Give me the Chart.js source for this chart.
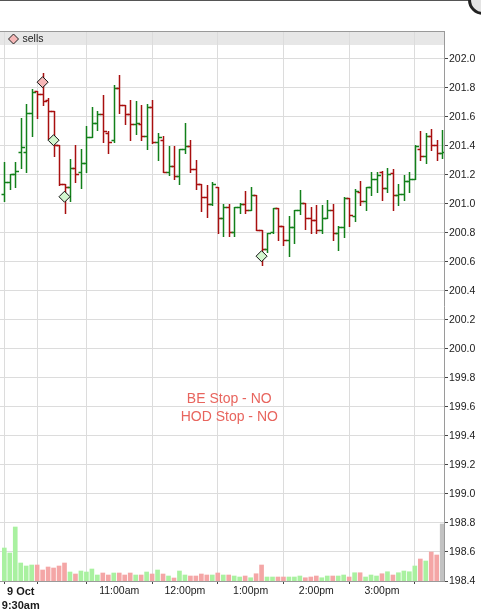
<!DOCTYPE html>
<html>
<head>
<meta charset="utf-8">
<script src="https://cdn.jsdelivr.net/npm/chart.js@4.4.1/dist/chart.umd.min.js"></script>
<style>
  html, body { margin: 0; padding: 0; background: #fff; overflow: hidden; }
  #wrap { position: relative; width: 481px; height: 615px; }
  #c { position: absolute; left: 0; top: 0; }
  #topline { position: absolute; left: 0; top: 0; width: 481px; height: 1px; background: #555; }
  #knob { position: absolute; left: 468px; top: -15px; width: 24px; height: 24px; border-radius: 50%;
          border: 3px solid #222; background: #e4e4e4; }
</style>
</head>
<body>
<div id="wrap">
  <canvas id="c" width="481" height="615"></canvas>
  <div id="topline"></div>
  <div id="knob"></div>
</div>
<script>
// ---------- data (5-minute bars, index 0..80) ----------
const barOpen  = [201.07,201.15,201.21,201.36,201.36,201.63,201.78,201.76,201.72,201.64,
                  201.41,201.14,201.12,201.25,201.22,201.28,201.46,201.56,201.62,201.49,
                  201.44,201.80,201.68,201.62,201.55,201.55,201.47,201.67,201.43,201.44,
                  201.22,201.26,201.19,201.38,201.40,201.24,201.14,201.05,201.00,201.12,
                  200.90,200.98,200.81,200.98,201.00,200.96,201.06,200.82,200.69,200.81,
                  200.97,200.85,200.75,200.84,200.96,201.01,200.90,200.89,200.82,200.90,
                  200.96,200.80,200.84,201.04,200.92,201.085,201.02,201.115,201.17,201.22,
                  201.11,201.215,201.06,201.07,201.16,201.175,201.38,201.33,201.47,201.41,
                  201.355];
const barHigh  = [201.29,201.21,201.29,201.59,201.69,201.79,201.78,201.90,201.73,201.64,
                  201.41,201.14,201.31,201.41,201.38,201.54,201.67,201.64,201.75,201.50,
                  201.82,201.89,201.68,201.72,201.71,201.68,201.69,201.72,201.49,201.47,
                  201.40,201.40,201.38,201.56,201.44,201.30,201.14,201.13,201.15,201.12,
                  201.00,201.00,200.98,201.01,201.09,201.12,201.06,200.82,200.80,200.975,
                  200.97,200.85,200.915,200.96,201.095,201.01,200.98,200.995,200.995,201.03,
                  201.00,200.85,201.045,201.04,201.10,201.16,201.12,201.22,201.22,201.23,
                  201.245,201.24,201.14,201.20,201.22,201.41,201.50,201.49,201.52,201.44,
                  201.51];
const barLow   = [201.02,201.10,201.12,201.25,201.22,201.47,201.59,201.68,201.45,201.33,
                  201.13,200.94,201.02,201.15,201.11,201.22,201.46,201.51,201.43,201.35,
                  201.43,201.63,201.55,201.44,201.48,201.44,201.38,201.42,201.30,201.22,
                  201.20,201.17,201.14,201.35,201.22,201.10,200.95,200.91,200.99,200.80,
                  200.78,200.78,200.78,200.94,200.94,200.96,200.82,200.58,200.67,200.80,
                  200.75,200.72,200.64,200.73,200.93,200.83,200.80,200.80,200.80,200.90,
                  200.75,200.68,200.77,200.845,200.88,200.99,200.96,201.06,201.085,201.03,
                  201.085,200.96,200.99,201.03,201.085,201.175,201.30,201.285,201.37,201.30,
                  201.315];
const barClose = [201.15,201.21,201.23,201.39,201.63,201.77,201.76,201.71,201.64,201.41,
                  201.14,201.12,201.25,201.21,201.28,201.46,201.56,201.62,201.50,201.43,
                  201.80,201.68,201.62,201.55,201.56,201.47,201.67,201.43,201.46,201.22,
                  201.26,201.19,201.38,201.40,201.24,201.14,201.05,201.00,201.14,200.90,
                  200.98,200.81,200.98,201.00,200.96,201.06,200.82,200.69,200.80,200.97,
                  200.85,200.75,200.84,200.96,201.01,200.90,200.89,200.82,200.90,200.96,
                  200.80,200.84,201.04,200.925,201.09,201.02,201.115,201.175,201.20,201.11,
                  201.21,201.06,201.07,201.16,201.175,201.40,201.33,201.47,201.41,201.355,
                  201.36];
// volume in thousands of shares
const barVolume = [1320,1120,2160,720,600,640,640,440,560,520,
                   600,720,360,280,400,360,480,240,320,240,
                   320,320,240,320,240,240,360,280,440,280,
                   200,120,400,240,200,200,280,240,240,320,
                   240,240,200,160,200,130,290,640,160,160,
                   160,160,160,160,200,130,160,200,130,200,
                   200,200,240,160,330,330,160,240,200,290,
                   370,240,330,400,370,600,880,800,1160,1040,
                   2280];
// trade markers
const sellIdx   = [7];
const sellPrice = [201.84];
const buyIdx    = [9, 11, 47];
const buyPrice  = [201.44, 201.05, 200.64];
// axis ticks
const xTickIdx   = [3, 9, 21, 33, 45, 57, 69];
const xTickText  = [['9 Oct', '9:30am'], '', '11:00am', '12:00pm', '1:00pm', '2:00pm', '3:00pm'];
const yTicks     = [198.4,198.6,198.8,199.0,199.2,199.4,199.6,199.8,200.0,200.2,200.4,200.6,200.8,201.0,201.2,201.4,201.6,201.8,202.0];
// note text
const noteLines = ['BE Stop - NO', 'HOD Stop - NO'];
const noteX     = 41.1;
const noteY     = [199.655, 199.53];

// ---------- styles ----------
const UP = '#12801a', DOWN = '#a80f0f';
const VOL_UP = '#a9f1a0', VOL_DOWN = '#f4a6a6', VOL_LAST = '#c2c2c2';
const FONT = "'Liberation Sans', Arial, sans-serif";

// ---------- OHLC controller (bar range high/low + open/close ticks) ----------
class OhlcController extends Chart.BarController {
  draw() {
    const meta = this._cachedMeta;
    const ds = this.getDataset();
    const ctx = this.chart.ctx;
    const vScale = meta.vScale;
    const area = this.chart.chartArea;
    ctx.save();
    ctx.beginPath();
    ctx.rect(area.left, area.top, area.right - area.left, area.bottom - area.top);
    ctx.clip();
    ctx.lineWidth = 1.5;
    meta.data.forEach((el, i) => {
      const o = ds.open[i], c = ds.close[i];
      ctx.strokeStyle = c >= o ? UP : DOWN;
      const x = Math.round(el.x) + 0.5;
      const yTop = Math.round(el.y);
      const yBot = Math.round(el.base) + 1;
      const yo = Math.round(vScale.getPixelForValue(o)) + 0.5;
      const yc = Math.round(vScale.getPixelForValue(c)) + 0.5;
      ctx.beginPath();
      ctx.moveTo(x, yTop); ctx.lineTo(x, yBot);
      ctx.moveTo(x - 3, yo); ctx.lineTo(x, yo);
      ctx.moveTo(x, yc); ctx.lineTo(x + 3.5, yc);
      ctx.stroke();
    });
    ctx.restore();
  }
}
OhlcController.id = 'ohlc';
OhlcController.defaults = Chart.BarController.defaults;
OhlcController.overrides = Chart.BarController.overrides;
Chart.register(OhlcController);

// ---------- plugins ----------
const bandPlugin = {
  id: 'band',
  beforeDraw(chart) {
    const { ctx, chartArea: a } = chart;
    ctx.save();
    ctx.fillStyle = '#e7e7e7';
    ctx.fillRect(a.left, a.top, a.right - a.left, 14);
    ctx.restore();
  },
  afterDraw(chart) {
    const { ctx, chartArea: a } = chart;
    ctx.save();
    ctx.strokeStyle = '#999';
    ctx.lineWidth = 1;
    ctx.beginPath();
    ctx.moveTo(a.left, a.top + 0.5); ctx.lineTo(a.right, a.top + 0.5);
    ctx.stroke();
    // legend entry
    const cx = a.left + 13.5, cy = a.top + 8;
    ctx.beginPath();
    ctx.moveTo(cx - 5, cy); ctx.lineTo(cx, cy - 5); ctx.lineTo(cx + 5, cy); ctx.lineTo(cx, cy + 5);
    ctx.closePath();
    ctx.fillStyle = '#f6b7b7';
    ctx.fill();
    ctx.strokeStyle = '#222';
    ctx.stroke();
    ctx.fillStyle = '#222';
    ctx.font = '10.5px ' + FONT;
    ctx.textBaseline = 'middle';
    ctx.textAlign = 'left';
    ctx.fillText('sells', a.left + 22.5, cy);
    ctx.restore();
  }
};
const notePlugin = {
  id: 'note',
  afterDatasetsDraw(chart) {
    const { ctx, scales } = chart;
    ctx.save();
    ctx.fillStyle = '#e8655e';
    ctx.font = '14px ' + FONT;
    ctx.textAlign = 'center';
    ctx.textBaseline = 'middle';
    noteLines.forEach((t, k) => {
      ctx.fillText(t, scales.x.getPixelForValue(noteX), scales.y.getPixelForValue(noteY[k]));
    });
    ctx.restore();
  }
};

// ---------- chart ----------
const idx = barOpen.map((_, i) => i);
const isUp = idx.map(i => barClose[i] >= barOpen[i]);
const volColors = idx.map(i => i === idx.length - 1 ? VOL_LAST : (isUp[i] ? VOL_UP : VOL_DOWN));

new Chart(document.getElementById('c'), {
  data: {
    datasets: [
      {
        type: 'scatter', label: 'sells', order: 0,
        data: sellIdx.map((x, k) => ({ x, y: sellPrice[k] })),
        pointStyle: 'rectRot', pointRadius: 5.5, pointHoverRadius: 5.5,
        backgroundColor: '#f6b7b7', borderColor: '#111', borderWidth: 1
      },
      {
        type: 'scatter', label: 'buys', order: 0,
        data: buyIdx.map((x, k) => ({ x, y: buyPrice[k] })),
        pointStyle: 'rectRot', pointRadius: 5.5, pointHoverRadius: 5.5,
        backgroundColor: '#d2f7cf', borderColor: '#111', borderWidth: 1
      },
      {
        type: 'ohlc', label: 'price', order: 1, grouped: false,
        data: idx.map(i => ({ x: i, y: [barLow[i], barHigh[i]] })),
        open: barOpen, close: barClose,
        barThickness: 1, backgroundColor: UP
      },
      {
        type: 'bar', label: 'volume', order: 2, grouped: false, yAxisID: 'yv',
        data: idx.map(i => ({ x: i, y: barVolume[i] })),
        backgroundColor: volColors, barThickness: 4, borderWidth: 0
      }
    ]
  },
  options: {
    responsive: false,
    animation: false,
    events: [],
    layout: { autoPadding: false, padding: { top: 31, left: 0, right: 0, bottom: 0 } },
    plugins: { legend: { display: false }, tooltip: { enabled: false } },
    scales: {
      x: {
        type: 'linear', min: -0.786, max: 80.33, offset: false,
        afterBuildTicks(s) { s.ticks = xTickIdx.map(v => ({ value: v })); },
        afterFit(s) { s.height = 34; s.paddingLeft = 0; s.paddingRight = 0; },
        ticks: {
          autoSkip: false, maxRotation: 0, minRotation: 0, padding: 1, color: '#1a1a1a',
          callback(v) { const k = xTickIdx.indexOf(v); return k >= 0 ? xTickText[k] : ''; },
          font(c) {
            return (c.tick && c.tick.value === xTickIdx[0])
              ? { family: FONT, size: 11, weight: 'bold', lineHeight: 1.25 }
              : { family: FONT, size: 10.5, lineHeight: 1.2 };
          }
        },
        grid: { color: '#dcdcdc', tickColor: '#444', tickLength: 3, lineWidth: 1 },
        border: { color: '#9a9a9a' }
      },
      y: {
        type: 'linear', position: 'right', min: 198.4, max: 202.193,
        afterBuildTicks(s) { s.ticks = yTicks.map(v => ({ value: v })); },
        afterFit(s) { s.width = 37; s.paddingTop = 0; s.paddingBottom = 0; },
        ticks: {
          padding: 1, color: '#1a1a1a',
          font: { family: FONT, size: 10.5 },
          callback(v) { return Number(v).toFixed(1); }
        },
        grid: { color: '#dcdcdc', tickColor: '#444', tickLength: 4, lineWidth: 1 },
        border: { color: '#9a9a9a' }
      },
      yv: {
        type: 'linear', display: false, min: 0, max: 22000
      }
    }
  },
  plugins: [bandPlugin, notePlugin]
});
</script>
</body>
</html>
